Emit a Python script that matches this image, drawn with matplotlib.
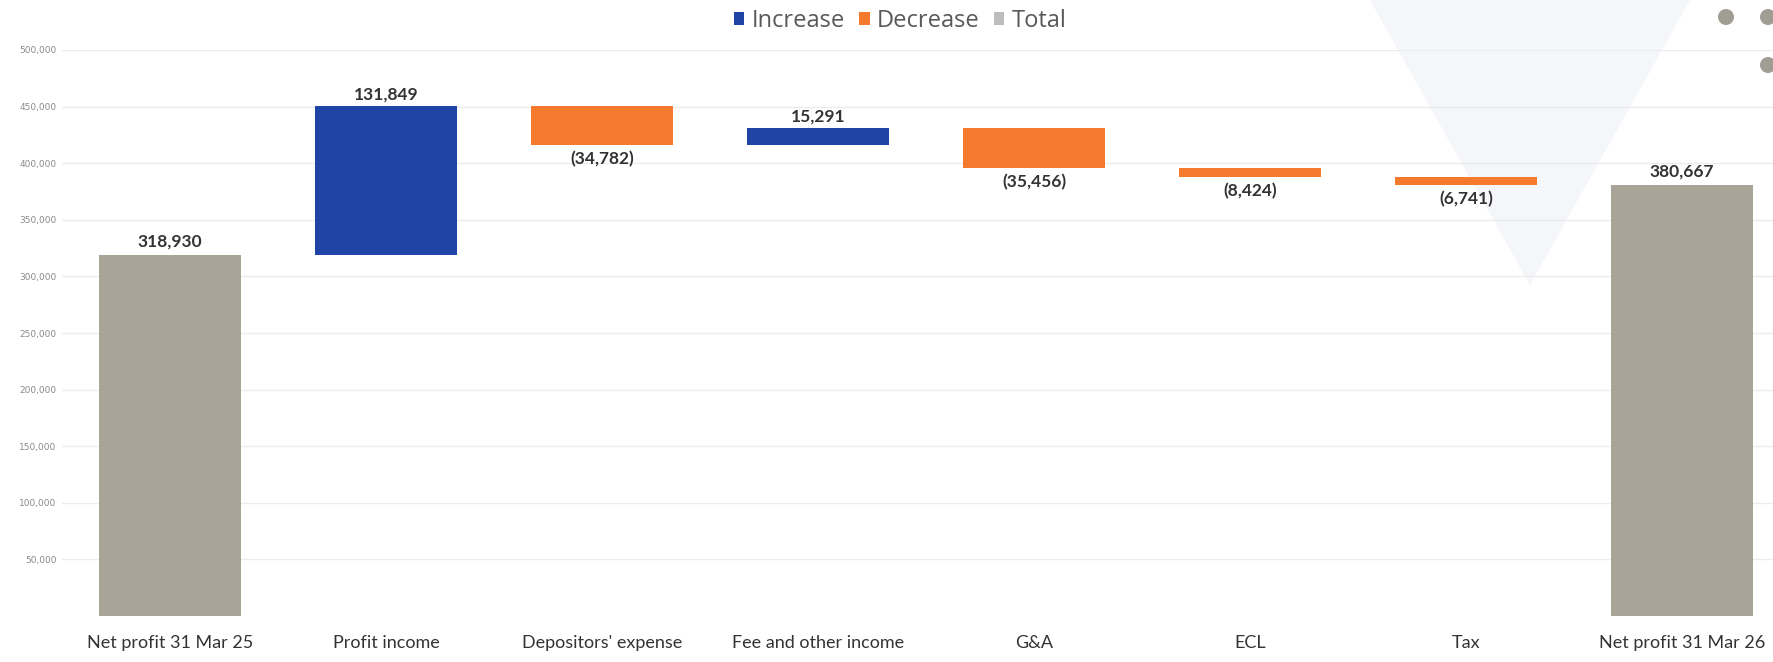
import matplotlib
matplotlib.use("Agg")
import matplotlib.pyplot as plt
from matplotlib.patches import Polygon, Ellipse, Patch
from matplotlib.ticker import FuncFormatter

categories = ["Net profit 31 Mar 25", "Profit income", "Depositors' expense",
              "Fee and other income", "G&A", "ECL", "Tax", "Net profit 31 Mar 26"]
start_total = 318930
changes = [131849, -34782, 15291, -35456, -8424, -6741]
end_total = 380667
tick_values = [50000, 100000, 150000, 200000, 250000, 300000, 350000, 400000, 450000, 500000]

C_INC = "#1f44a6"
C_DEC = "#f67a2d"
C_TOT = "#a8a498"
FAM = ["Lato", "DejaVu Sans"]

W, H = 1773, 662
fig = plt.figure(figsize=(W / 100, H / 100), dpi=100)
fig.patch.set_facecolor("white")

# background decorations from the slide, in a separate axes behind everything
bg = fig.add_axes([0, 0, 1, 1], zorder=0)
bg.set_xlim(0, W)
bg.set_ylim(H, 0)
bg.axis("off")
bg.add_patch(Polygon([(1370, 0), (1690, 0), (1530, 285)], closed=True,
                     facecolor="#f5f6f9", edgecolor="none"))
for (cx, cy) in [(1726, 17), (1768, 17), (1768, 65)]:
    bg.add_patch(Ellipse((cx, cy), 16, 16, facecolor="#a09d92", edgecolor="none"))

ax = fig.add_axes([62 / W, 1 - 616 / H, (W - 62) / W, (616 - 50) / H], zorder=1)
ax.patch.set_alpha(0)

width = 0.66
n = len(categories)
lab_kw = dict(fontsize=12.5, fontweight="bold", color="#333333", family=FAM)
ax.bar(0, start_total, width=width, color=C_TOT, zorder=3)
ax.bar(n - 1, end_total, width=width, color=C_TOT, zorder=3)
ax.text(0, start_total + 5000, f"{start_total:,}", ha="center", va="bottom", **lab_kw)
ax.text(n - 1, end_total + 5000, f"{end_total:,}", ha="center", va="bottom", **lab_kw)

running = start_total
for i, ch in enumerate(changes, start=1):
    bottom = running if ch > 0 else running + ch
    color = C_INC if ch > 0 else C_DEC
    ax.bar(i, abs(ch), bottom=bottom, width=width, color=color, zorder=3)
    if ch > 0:
        ax.text(i, running + ch + 3000, f"{ch:,}", ha="center", va="bottom", **lab_kw)
    else:
        ax.text(i, running + ch - 5000, f"({-ch:,})", ha="center", va="top", **lab_kw)
    running += ch

ax.set_xlim(-0.5, -0.5 + (W - 62) / 216)
ax.set_ylim(0, 500000)
ax.set_yticks(tick_values)
ax.yaxis.set_major_formatter(FuncFormatter(lambda v, p: f"{int(v):,}"))
ax.tick_params(axis="y", length=0, labelsize=6.5, labelcolor="#8a8a8a", pad=4)
ax.set_xticks(range(n))
ax.set_xticklabels(categories, fontsize=13, color="#333333", family=FAM)
ax.tick_params(axis="x", length=0, pad=14)
ax.grid(axis="y", color="#ececec", linewidth=1, zorder=0)
for s in ax.spines.values():
    s.set_visible(False)

handles = [Patch(facecolor=C_INC, label="Increase"),
           Patch(facecolor=C_DEC, label="Decrease"),
           Patch(facecolor="#bdbdbd", label="Total")]
leg = fig.legend(handles=handles, loc="center", bbox_to_anchor=(900 / W, 1 - 21 / H),
                 ncol=3, frameon=False, handlelength=0.45, handleheight=0.45,
                 handletextpad=0.3, columnspacing=0.6,
                 prop={"family": "Open Sans", "size": 17})
for t in leg.get_texts():
    t.set_color("#595959")

fig.savefig("out.png", dpi=100, facecolor="white")
